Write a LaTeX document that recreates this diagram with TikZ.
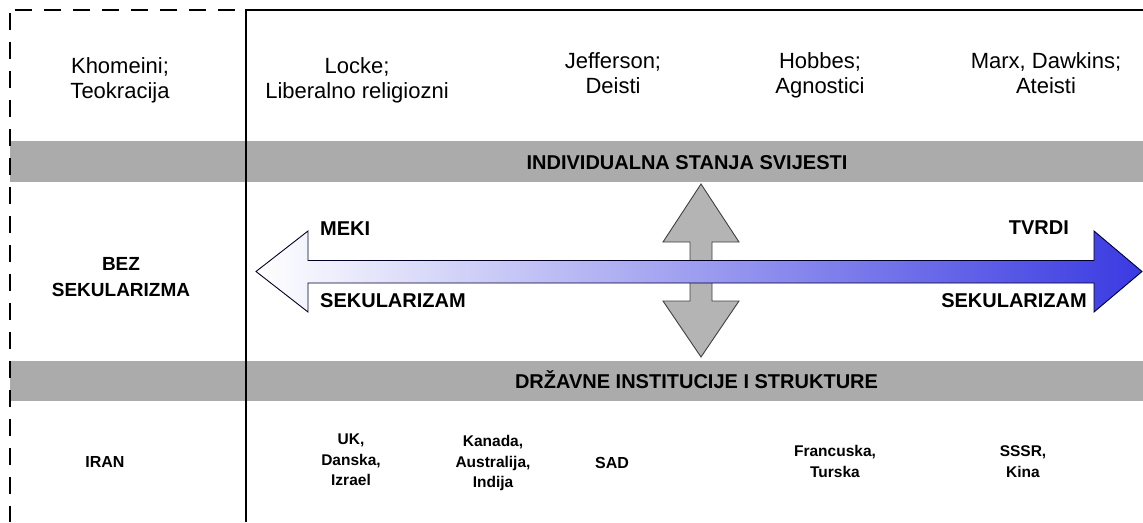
\documentclass[tikz,border=0pt]{standalone}
\usepackage{fontspec}
\setmainfont{Liberation Sans}
\definecolor{bandgray}{RGB}{171,171,171}
\definecolor{arrowgray}{RGB}{180,180,180}
\definecolor{arrowblue}{RGB}{58,58,226}
\begin{document}
\begin{tikzpicture}[x=1pt,y=-1pt,
  toplabel/.style={align=center,inner sep=0pt,font=\fontsize{22}{25}\selectfont},
  header/.style={inner sep=0pt,anchor=base,font=\fontsize{20}{24}\selectfont\bfseries},
  arrowlabel/.style={inner sep=0pt,font=\fontsize{20}{24}\selectfont\bfseries},
  country/.style={align=center,inner sep=0pt,font=\fontsize{15.5}{20.5}\selectfont\bfseries},
  countrybold/.style={inner sep=0pt,anchor=base,font=\fontsize{16}{20}\selectfont\bfseries},
  band/.style={fill=bandgray,draw=none},
  framedash/.style={line width=2.5pt,dash pattern=on 17pt off 12pt}]
\useasboundingbox (0,0) rectangle (1143,522);
% gray bands
\fill[band] (10,141) rectangle (1143,182);
\fill[band] (10,361) rectangle (1143,401);
% frame lines
\draw[framedash] (15,10) -- (246,10);
\draw[framedash] (10,13) -- (10,522);
\draw[line width=2.5pt] (245,10) -- (1143,10);
\draw[line width=2pt] (246,9) -- (246,522);
% vertical double arrow
\draw[fill=arrowgray,draw=black!75,line width=0.9pt]
  (701,184) -- (739,242) -- (712,242) -- (712,301) -- (739,301) -- (701,357)
  -- (663,301) -- (690,301) -- (690,242) -- (663,242) -- cycle;
% horizontal double arrow with gradient
\draw[left color=white,right color=arrowblue,draw=black!85!blue,line width=0.9pt]
  (256,271.5) -- (308,231) -- (308,260.5) -- (1094,260.5) -- (1094,231)
  -- (1142,271.5) -- (1094,312) -- (1094,283) -- (308,283) -- (308,312) -- cycle;
% top labels
\node[toplabel] (khomeini) at (120,80.8) {Khomeini;\\Teokracija};
\node[toplabel] (locke) at (357,80.8) {Locke;\\Liberalno religiozni};
\node[toplabel] (jefferson) at (613,73.5) {Jefferson;\\Deisti};
\node[toplabel] (hobbes) at (820,75.8) {Hobbes;\\Agnostici};
\node[toplabel] (marx) at (1046,73.5) {Marx, Dawkins;\\Ateisti};
% band headers
\node[header] (ind) at (687,169) {INDIVIDUALNA STANJA SVIJESTI};
\node[header] (drz) at (696.5,388.5) {DRŽAVNE INSTITUCIJE I STRUKTURE};
% arrow labels
\node[arrowlabel,anchor=base west] (meki) at (320,235) {MEKI};
\node[arrowlabel,anchor=base west] (seksl) at (320,307.5) {SEKULARIZAM};
\node[arrowlabel,anchor=base east] (tvrdi) at (1069,234) {TVRDI};
\node[arrowlabel,anchor=base east] (sekdr) at (1087,307.5) {SEKULARIZAM};
\node[align=center,inner sep=0pt,font=\fontsize{19}{26}\selectfont\bfseries] (bez) at (121,277) {BEZ\\SEKULARIZMA};
% countries
\node[countrybold] (iran) at (105,467) {IRAN};
\node[country] (uk) at (351,460) {UK,\\Danska,\\Izrael};
\node[country] (kanada) at (493,463.4) {Kanada,\\Australija,\\Indija};
\node[countrybold] (sad) at (612,468) {SAD};
\node[country] (francuska) at (835,461.7) {Francuska,\\Turska};
\node[country] (sssr) at (1023,461.7) {SSSR,\\Kina};
\end{tikzpicture}
\end{document}
